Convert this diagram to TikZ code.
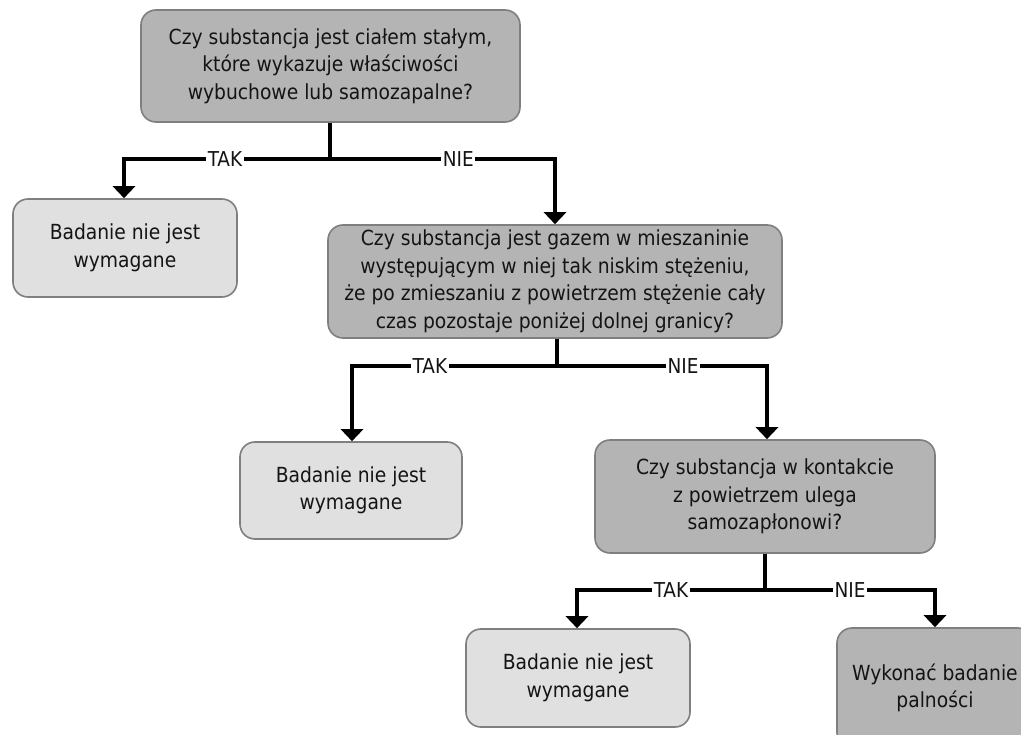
\documentclass[tikz,border=0pt]{standalone}
\usepackage{fontspec}
\setmainfont{DejaVu Sans Condensed}
\usetikzlibrary{arrows.meta}

\definecolor{qfill}{HTML}{B4B4B4}
\definecolor{afill}{HTML}{E0E0E0}
\definecolor{edge}{HTML}{7F7F7F}
\definecolor{ink}{HTML}{141414}

\tikzset{
  box/.style={rectangle, rounded corners=15pt, draw=edge, line width=1.6pt,
    align=center, text=ink, inner sep=0pt,
    font=\fontsize{20.8pt}{27.5pt}\selectfont},
  question/.style={box, fill=qfill},
  answer/.style={box, fill=afill},
  conn/.style={line width=3.6pt, line cap=rect},
  arrowconn/.style={conn, -{Triangle[width=22pt,length=12pt]}},
  choice/.style={fill=white, inner xsep=1.5pt, inner ysep=0pt, text=ink,
    font=\fontsize{20.5pt}{20.5pt}\selectfont},
}

\begin{document}
\begin{tikzpicture}[x=1pt, y=-1pt]
\useasboundingbox (0,0) rectangle (1021,735);
\clip (0,0) rectangle (1021,735);
\fill[white] (0,0) rectangle (1021,735);

% decision boxes
\node[question, minimum width=379pt, minimum height=112pt] (q1) at (330.5,66)
  {Czy substancja jest ciałem stałym,\\które wykazuje właściwości\\wybuchowe lub samozapalne?};
\node[question, minimum width=454pt, minimum height=113pt] (q2) at (555,281.5)
  {Czy substancja jest gazem w mieszaninie\\występującym w niej tak niskim stężeniu,\\że po zmieszaniu z powietrzem stężenie cały\\czas pozostaje poniżej dolnej granicy?};
\node[question, minimum width=340pt, minimum height=113pt] (q3) at (765,496.5)
  {Czy substancja w kontakcie\\z powietrzem ulega\\samozapłonowi?};

% outcome boxes
\node[answer, minimum width=224pt, minimum height=98pt] (a1) at (125,248)
  {Badanie nie jest\\wymagane};
\node[answer, minimum width=222pt, minimum height=97pt] (a2) at (351,490.5)
  {Badanie nie jest\\wymagane};
\node[answer, minimum width=224pt, minimum height=98pt] (a3) at (578,678)
  {Badanie nie jest\\wymagane};
\node[question, minimum width=196pt, minimum height=120pt] (a4) at (935,688)
  {Wykonać badanie\\palności};

% branch junctions below each question
\coordinate (j1) at (330,159);
\coordinate (j2) at (557,366);
\coordinate (j3) at (765,590);

\draw[conn, line cap=butt] (q1.south -| j1) -- (j1);
\draw[arrowconn] (j1) -| (a1.north -| 124,0)
  node[choice, pos=0.255] {TAK};
\draw[arrowconn] (j1) -| (q2.north -| 555,0)
  node[choice, pos=0.285] {NIE};

\draw[conn, line cap=butt] (q2.south -| j2) -- (j2);
\draw[arrowconn] (j2) -| (a2.north -| 352,0)
  node[choice, pos=0.31] {TAK};
\draw[arrowconn] (j2) -| (q3.north -| 767,0)
  node[choice, pos=0.30] {NIE};

\draw[conn, line cap=butt] (q3.south -| j3) -- (j3);
\draw[arrowconn] (j3) -| (a3.north -| 577,0)
  node[choice, pos=0.25] {TAK};
\draw[arrowconn] (j3) -| (a4.north)
  node[choice, pos=0.25] {NIE};
\end{tikzpicture}
\end{document}
